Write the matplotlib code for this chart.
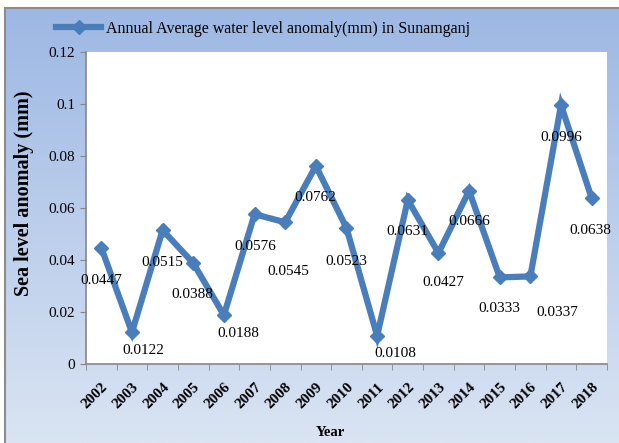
import numpy as np
import matplotlib
matplotlib.use('Agg')
import matplotlib.pyplot as plt
from matplotlib.ticker import FuncFormatter, FixedLocator

plt.rcParams['font.family'] = ['Liberation Serif', 'DejaVu Serif']

years = ['2002', '2003', '2004', '2005', '2006', '2007', '2008', '2009', '2010',
         '2011', '2012', '2013', '2014', '2015', '2016', '2017', '2018']
anomaly = [0.0447, 0.0122, 0.0515, 0.0388, 0.0188, 0.0576, 0.0545, 0.0762, 0.0523,
           0.0108, 0.0631, 0.0427, 0.0666, 0.0333, 0.0337, 0.0996, 0.0638]
yticks = [0, 0.02, 0.04, 0.06, 0.08, 0.1, 0.12]

# label offsets in pixels (dx right, dy down), moved by hand like in excel
lab_off = [(0, 33), (11, 18), (0, 32), (-1, 31), (14, 18), (1, 32), (3, 49), (-1, 32), (0, 33),
           (18, 18), (0, 32), (5, 30), (0, 31), (0, 31), (27, 36), (0, 32), (-1, 32)]

W, H = 619, 443
blue = '#4A7EBB'
fig = plt.figure(figsize=(W / 100, H / 100), dpi=100)
fig.patch.set_facecolor('white')

# gradient background of the chart area
bg = fig.add_axes([4.5 / W, 0, 1 - 4.5 / W, (H - 8) / H])
top = np.array([157, 184, 228]) / 255
bot = np.array([218, 228, 243]) / 255
t = np.linspace(0, 1, 256)[:, None]
grad = top[None, :] * (1 - t) + bot[None, :] * t
bg.imshow(grad[:, None, :], aspect='auto', extent=[0, 1, 0, 1])
bg.set_xlim(0, 1)
bg.set_ylim(0, 1)
bg.axis('off')
fig.add_artist(plt.Line2D([4.5 / W, 4.5 / W], [0, (H - 7.5) / H], color='#8c8c8c', lw=1.5))
fig.add_artist(plt.Line2D([4.5 / W, 1], [(H - 7.5) / H, (H - 7.5) / H], color='#8c8c8c', lw=1.5))

ax = fig.add_axes([86 / W, (H - 364) / H, (607 - 86) / W, (364 - 52) / H])
ax.set_facecolor('white')
x = np.arange(len(years))
line, = ax.plot(x, anomaly, color=blue, lw=4.5, marker='D', markersize=7.5,
                markerfacecolor=blue, markeredgecolor=blue, solid_joinstyle='miter',
                label='Annual Average water level anomaly(mm) in Sunamganj')
for i, v in enumerate(anomaly):
    dx, dy = lab_off[i]
    ax.annotate(str(v), (x[i], v), xytext=(dx * 0.72, -dy * 0.72), textcoords='offset points',
                ha='center', va='center', fontsize=11, color='black', annotation_clip=False)

ax.set_xlim(-0.5, len(years) - 0.5)
ax.set_ylim(0, 0.12)
ax.set_yticks(yticks)
ax.yaxis.set_major_formatter(FuncFormatter(lambda v, p: '0' if v == 0 else ('%g' % v)))
ax.set_xticks(x)
ax.set_xticklabels(years, rotation=45, ha='right', rotation_mode='anchor', fontweight='bold', fontsize=11)
ax.xaxis.set_minor_locator(FixedLocator(np.arange(-0.5, len(years), 1.0)))
ax.tick_params(axis='x', which='major', length=0, pad=12)
ax.tick_params(axis='x', which='minor', length=4, direction='out', color='#868686')
ax.tick_params(axis='y', length=4, direction='out', color='#868686', labelsize=11, pad=4)
for s in ['top', 'right']:
    ax.spines[s].set_visible(False)
for s in ['left', 'bottom']:
    ax.spines[s].set_color('#868686')
    ax.spines[s].set_linewidth(1.2)

fig.text(24 / W, 1 - 193 / H, 'Sea level anomaly (mm)', rotation=90, ha='center', va='center',
         fontweight='bold', fontsize=14.5)
fig.text(330 / W, 1 - 432 / H, 'Year', ha='center', va='center', fontweight='bold', fontsize=10.5)

fig.legend(handles=[line], loc='center', bbox_to_anchor=(263 / W, 1 - 29 / H), frameon=False,
           fontsize=11.5, handlelength=2.8, handletextpad=0.3)

fig.savefig('out.png', dpi=100)
